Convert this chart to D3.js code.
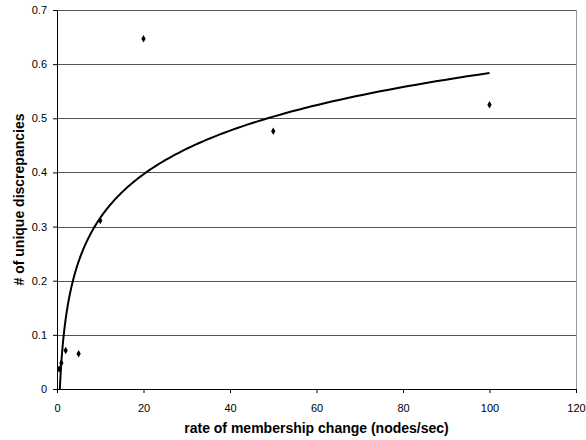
<!DOCTYPE html>
<html>
<head>
<meta charset="utf-8">
<script src="https://cdn.jsdelivr.net/npm/d3@7"></script>
<style>
  body { margin: 0; background: #fff; }
  svg { font-family: "Liberation Sans", Arial, sans-serif; }
</style>
</head>
<body>
<svg id="chart" width="586" height="440"></svg>
<script>
// data
const rates = [0.5, 1, 2, 5, 10, 20, 50, 100];
const discrepancies = [0.037, 0.048, 0.071, 0.065, 0.311, 0.647, 0.476, 0.525];
const xTicks = [0, 20, 40, 60, 80, 100, 120];
const yTicks = [0, 0.1, 0.2, 0.3, 0.4, 0.5, 0.6, 0.7];

const svg = d3.select("#chart");
const margin = { top: 10, right: 10, bottom: 51, left: 57 };
const width = +svg.attr("width");
const height = +svg.attr("height");
const innerWidth = width - margin.left - margin.right;
const innerHeight = height - margin.top - margin.bottom;

const x = d3.scaleLinear().domain([0, 120]).range([0, innerWidth]);
const y = d3.scaleLinear().domain([0, 0.7]).range([innerHeight, 0]);

const g = svg.append("g").attr("transform", `translate(${margin.left},${margin.top})`);

// gridlines
g.append("g")
  .selectAll("line")
  .data(yTicks.slice(1))
  .enter()
  .append("line")
  .attr("x1", 0)
  .attr("x2", innerWidth)
  .attr("y1", (d) => Math.round(y(d)) + 0.5)
  .attr("y2", (d) => Math.round(y(d)) + 0.5)
  .attr("stroke", "#555");

// right border of plot area
g.append("line")
  .attr("x1", innerWidth + 0.5)
  .attr("x2", innerWidth + 0.5)
  .attr("y1", 0)
  .attr("y2", innerHeight)
  .attr("stroke", "#999");

// axes
const xAxisG = g.append("g")
  .attr("transform", `translate(0,${innerHeight})`)
  .call(d3.axisBottom(x).tickValues(xTicks).tickSize(4).tickPadding(11).tickSizeOuter(0));
const yAxisG = g.append("g")
  .call(d3.axisLeft(y).tickValues(yTicks).tickFormat(d3.format("")).tickSize(4).tickPadding(6).tickSizeOuter(0));

[xAxisG, yAxisG].forEach((a) => {
  a.selectAll("text").attr("font-size", 11).attr("fill", "#000").attr("font-family", "Liberation Sans, Arial, sans-serif");
  a.selectAll("line, path").attr("stroke", "#000");
});

// logarithmic trendline, least squares on ln(x)
const lx = rates.map((r) => Math.log(r));
const mx = d3.mean(lx);
const my = d3.mean(discrepancies);
const slope = d3.sum(lx, (v, i) => (v - mx) * (discrepancies[i] - my)) / d3.sum(lx, (v) => (v - mx) * (v - mx));
const intercept = my - slope * mx;
const trend = d3.range(0, 201).map((i) => {
  const xv = Math.exp(Math.log(0.5) + (Math.log(100) - Math.log(0.5)) * i / 200);
  return [xv, slope * Math.log(xv) + intercept];
});

svg.append("clipPath").attr("id", "plotclip")
  .append("rect").attr("width", innerWidth).attr("height", innerHeight);

g.append("path")
  .datum(trend)
  .attr("clip-path", "url(#plotclip)")
  .attr("fill", "none")
  .attr("stroke", "#000")
  .attr("stroke-width", 2)
  .attr("d", d3.line().x((d) => x(d[0])).y((d) => y(d[1])));

// points
g.append("g")
  .selectAll("path")
  .data(rates)
  .enter()
  .append("path")
  .attr("transform", (d, i) => `translate(${x(d)},${y(discrepancies[i])})`)
  .attr("d", d3.symbol().type(d3.symbolDiamond).size(16))
  .attr("fill", "#000");

// axis titles
svg.append("text")
  .attr("x", margin.left + innerWidth / 2)
  .attr("y", 433)
  .attr("text-anchor", "middle")
  .attr("font-size", 14)
  .attr("font-weight", "bold")
  .text("rate of membership change (nodes/sec)");

svg.append("text")
  .attr("transform", `translate(24,${margin.top + innerHeight / 2}) rotate(-90)`)
  .attr("text-anchor", "middle")
  .attr("font-size", 14)
  .attr("font-weight", "bold")
  .text("# of unique discrepancies");
</script>
</body>
</html>
